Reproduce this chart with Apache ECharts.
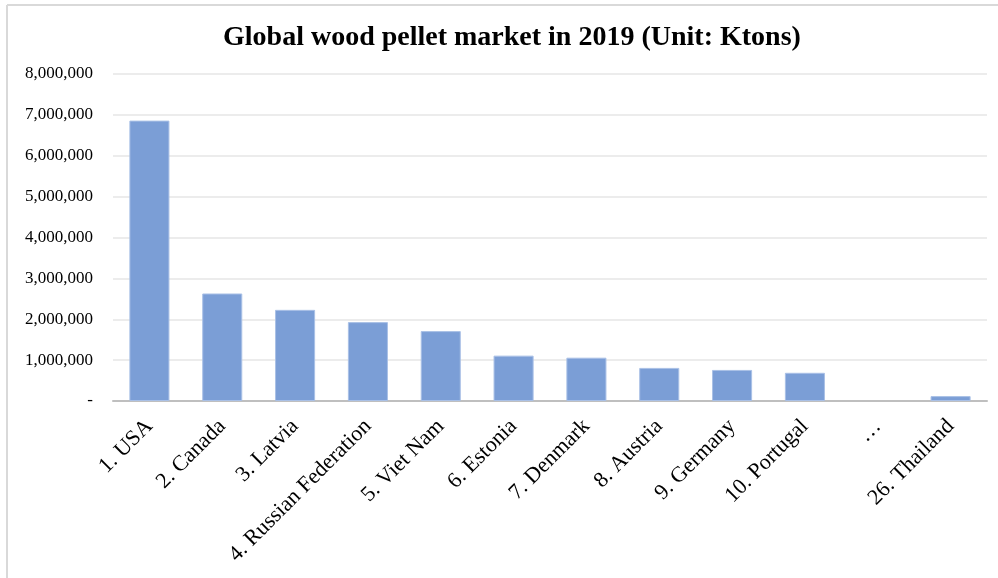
<!DOCTYPE html>
<html>
<head>
<meta charset="utf-8">
<script src="https://cdn.jsdelivr.net/npm/echarts@6/dist/echarts.min.js"></script>
<style>
  html, body { margin: 0; padding: 0; background: #fff; }
  #chart { width: 998px; height: 578px; }
</style>
</head>
<body>
<div id="chart"></div>
<script>
// Top wood pellet exporters, 2019
const countries = [
  '1. USA', '2. Canada', '3. Latvia', '4. Russian Federation', '5. Viet Nam',
  '6. Estonia', '7. Denmark', '8. Austria', '9. Germany', '10. Portugal',
  '…', '26. Thailand'
];
const volumes = [
  6860000, 2630000, 2230000, 1930000, 1710000,
  1110000, 1060000, 810000, 760000, 690000,
  null, 120000
];
const yTicks = { min: 0, max: 8000000, interval: 1000000 };

const serif = '"Liberation Serif", "Times New Roman", serif';
const chart = echarts.init(document.getElementById('chart'), null, { renderer: 'canvas' });

chart.setOption({
  backgroundColor: '#ffffff',
  animation: false,
  title: {
    text: 'Global wood pellet market in 2019 (Unit: Ktons)',
    left: 218,
    top: 19,
    textStyle: { fontFamily: serif, fontWeight: 'bold', fontSize: 28, color: '#000' }
  },
  graphic: [
    { type: 'line', shape: { x1: 7, y1: 5, x2: 998, y2: 5 }, style: { stroke: '#d9d9d9', lineWidth: 2 } },
    { type: 'line', shape: { x1: 7, y1: 5, x2: 7, y2: 578 }, style: { stroke: '#d9d9d9', lineWidth: 2 } }
  ],
  grid: { left: 113, right: 11, top: 74, bottom: 177, containLabel: false },
  xAxis: {
    type: 'category',
    data: countries,
    axisTick: { show: false },
    axisLine: { lineStyle: { color: '#bfbfbf', width: 2 } },
    axisLabel: {
      rotate: 45,
      interval: 0,
      margin: 22,
      fontFamily: serif,
      fontSize: 22,
      color: '#000'
    }
  },
  yAxis: {
    type: 'value',
    min: yTicks.min,
    max: yTicks.max,
    interval: yTicks.interval,
    axisLine: { show: false },
    axisTick: { show: false },
    splitLine: { lineStyle: { color: '#ececec', width: 2 } },
    axisLabel: {
      margin: 20,
      fontFamily: serif,
      fontSize: 17,
      color: '#000',
      formatter: v => v === 0 ? '-' : v.toLocaleString('en-US')
    }
  },
  series: [{
    type: 'bar',
    data: volumes,
    barWidth: '55%',
    itemStyle: { color: '#7b9ed6', borderColor: '#a9c0e6', borderWidth: 1 }
  }]
});
</script>
</body>
</html>
